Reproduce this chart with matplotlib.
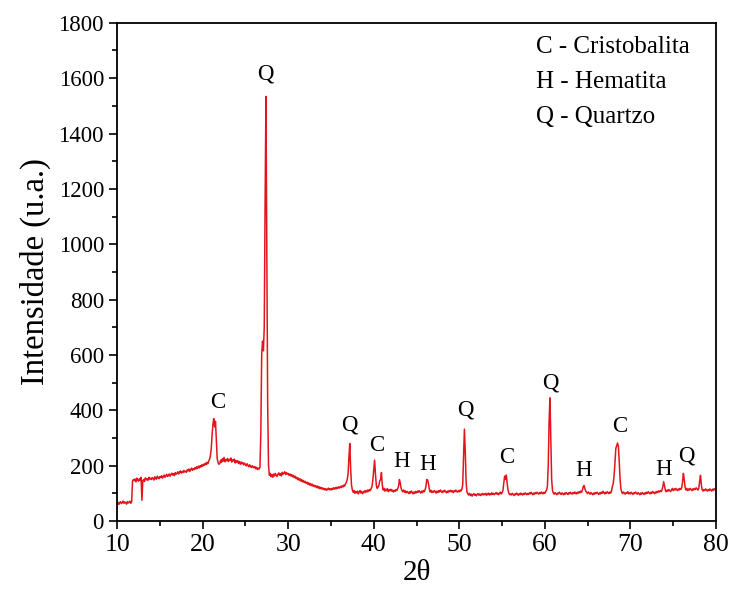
# -*- coding:utf-8 -*-

import numpy as np
import matplotlib
matplotlib.use('Agg')
import matplotlib.pyplot as plt
from matplotlib.ticker import MultipleLocator

# 2theta step scan, 10 -> 80 deg, 0.1 deg step (one row = one degree)
intensity = [
    62, 68, 60, 66, 70, 63, 67, 72, 64, 69,              # 10
    66, 61, 70, 65, 68, 72, 64, 70, 143, 150,            # 11
    146, 152, 141, 155, 148, 144, 153, 147, 158, 75,     # 12
    145, 150, 143, 156, 149, 152, 147, 158, 151, 155,    # 13
    150, 157, 153, 148, 160, 155, 151, 162, 156, 153,    # 14
    161, 157, 164, 155, 160, 166, 158, 163, 169, 161,    # 15
    165, 170, 162, 168, 173, 166, 171, 164, 175, 169,    # 16
    172, 178, 170, 176, 181, 173, 179, 175, 183, 177,    # 17
    180, 176, 185, 181, 188, 179, 186, 191, 183, 189,    # 18
    186, 193, 188, 196, 190, 198, 192, 200, 195, 203,    # 19
    198, 205, 201, 209, 204, 212, 207, 216, 222, 235,    # 20
    260, 310, 350, 370, 340, 360, 290, 225, 212, 205,    # 21
    208, 220, 212, 225, 216, 230, 214, 222, 218, 226,    # 22
    215, 223, 219, 228, 213, 221, 217, 224, 210, 219,    # 23
    212, 218, 208, 215, 205, 213, 207, 211, 203, 209,    # 24
    204, 199, 207, 201, 196, 203, 198, 193, 200, 195,    # 25
    192, 197, 189, 194, 186, 191, 188, 195, 320, 600,    # 26
    650, 615, 700, 1150, 1534, 980, 420, 200, 165, 172,  # 27
    160, 168, 158, 170, 163, 172, 165, 161, 169, 174,    # 28
    166, 171, 163, 176, 169, 173, 178, 168, 175, 170,    # 29
    172, 165, 170, 163, 168, 160, 165, 157, 162, 154,    # 30
    158, 150, 155, 147, 152, 144, 149, 141, 146, 139,    # 31
    143, 136, 140, 133, 138, 130, 135, 128, 133, 126,    # 32
    130, 124, 128, 121, 126, 119, 124, 117, 122, 116,    # 33
    120, 114, 118, 112, 117, 111, 115, 119, 113, 117,    # 34
    112, 118, 114, 120, 115, 121, 116, 122, 118, 124,    # 35
    119, 125, 121, 127, 123, 130, 126, 134, 140, 150,    # 36
    170, 230, 280, 190, 130, 112, 104, 110, 100, 107,    # 37
    102, 108, 98, 105, 110, 101, 107, 99, 104, 109,      # 38
    103, 110, 105, 112, 107, 114, 110, 118, 125, 150,    # 39
    185, 220, 170, 130, 118, 122, 128, 145, 150, 175,    # 40
    130, 112, 118, 108, 115, 110, 117, 106, 113, 109,    # 41
    115, 108, 112, 105, 111, 107, 114, 110, 118, 125,    # 42
    150, 138, 118, 110, 106, 112, 104, 109, 102, 107,    # 43
    104, 99, 106, 101, 108, 103, 98, 105, 100, 107,      # 44
    102, 108, 104, 110, 105, 101, 108, 103, 110, 106,    # 45
    112, 125, 150, 148, 135, 115, 105, 111, 103, 108,    # 46
    104, 110, 106, 101, 108, 103, 110, 105, 112, 107,    # 47
    103, 109, 105, 111, 106, 102, 108, 104, 110, 106,    # 48
    111, 105, 109, 103, 110, 106, 112, 107, 104, 110,    # 49
    106, 112, 108, 115, 130, 230, 332, 250, 140, 105,    # 50
    98, 94, 100, 92, 97, 90, 95, 99, 93, 97,             # 51
    91, 96, 99, 93, 98, 92, 96, 100, 94, 98,             # 52
    95, 100, 93, 97, 101, 94, 99, 95, 102, 96,           # 53
    100, 95, 99, 103, 97, 101, 95, 100, 104, 98,         # 54
    102, 110, 135, 162, 150, 166, 135, 112, 100, 95,     # 55
    98, 94, 100, 96, 92, 98, 95, 101, 97, 93,            # 56
    99, 95, 101, 97, 94, 100, 96, 102, 98, 95,           # 57
    100, 96, 102, 98, 104, 99, 95, 101, 97, 103,         # 58
    99, 104, 100, 97, 103, 99, 105, 101, 98, 104,        # 59
    100, 106, 112, 125, 200, 360, 445, 300, 150, 110,    # 60
    101, 97, 103, 99, 95, 101, 98, 104, 100, 96,         # 61
    102, 98, 95, 101, 97, 103, 99, 96, 102, 98,          # 62
    104, 100, 97, 103, 99, 105, 101, 98, 104, 100,       # 63
    106, 102, 108, 104, 112, 125, 128, 115, 107, 103,    # 64
    99, 105, 101, 97, 103, 99, 95, 101, 97, 103,         # 65
    99, 104, 100, 96, 102, 98, 104, 100, 107, 102,       # 66
    98, 104, 100, 106, 102, 99, 105, 101, 108, 125,      # 67
    135, 165, 210, 262, 272, 282, 270, 215, 150, 115,    # 68
    104, 99, 105, 101, 97, 103, 100, 106, 98, 102,       # 69
    98, 104, 100, 96, 102, 99, 105, 101, 97, 103,        # 70
    99, 95, 101, 97, 103, 99, 96, 102, 98, 104,          # 71
    100, 106, 102, 98, 104, 100, 107, 103, 99, 105,      # 72
    101, 107, 103, 109, 105, 110, 106, 112, 125, 142,    # 73
    125, 110, 106, 112, 108, 114, 110, 106, 112, 118,    # 74
    110, 116, 112, 118, 114, 110, 116, 112, 118, 114,    # 75
    120, 140, 172, 150, 122, 112, 118, 110, 116, 112,    # 76
    118, 114, 110, 116, 112, 118, 114, 120, 116, 112,    # 77
    118, 145, 165, 130, 112, 108, 114, 110, 116, 112,    # 78
    108, 114, 110, 116, 112, 108, 115, 111, 117, 113,    # 79
    110,                                                 # 80
]
two_theta = np.linspace(10, 80, len(intensity))

# phase labels over the peaks
peak_labels = ['C', 'Q', 'Q', 'C', 'H', 'H', 'Q', 'C', 'Q', 'H', 'C', 'H', 'Q']
peak_x = [21.8, 27.3, 37.2, 40.3, 43.3, 46.3, 50.7, 55.6, 60.7, 64.5, 68.8, 73.9, 76.5]
peak_y = [427, 1615, 348, 272, 214, 206, 402, 228, 500, 181, 340, 185, 235]

phase_notes = ['C - Cristobalita', 'H - Hematita', 'Q - Quartzo']


def run_main():

    plt.rc('font', family='Liberation Serif', size=16)

    fig = plt.figure(figsize=(7.32, 5.91), dpi=100)
    ax = fig.add_axes([0.160, 0.1184, 0.818, 0.843])

    ax.plot(two_theta, intensity, color='#e3141c', lw=1.1)

    for lab, x, y in zip(peak_labels, peak_x, peak_y):
        ax.text(x, y, lab, ha='center', va='center', fontsize=16.5)

    for i, note in enumerate(phase_notes):
        ax.text(0.70, 0.952 - i * 0.0705, note, transform=ax.transAxes,
                ha='left', va='center', fontsize=18)

    ax.set_xlim(10, 80)
    ax.set_ylim(0, 1800)
    ax.xaxis.set_major_locator(MultipleLocator(10))
    ax.xaxis.set_minor_locator(MultipleLocator(5))
    ax.yaxis.set_major_locator(MultipleLocator(200))
    ax.yaxis.set_minor_locator(MultipleLocator(100))
    ax.tick_params(which='major', direction='out', length=6, width=1.2)
    ax.tick_params(which='minor', direction='out', length=3.5, width=1.2)
    ax.tick_params(axis='x', labelsize=18.5)
    ax.tick_params(axis='y', labelsize=16.5)
    for s in ax.spines.values():
        s.set_linewidth(1.3)

    ax.set_xlabel('2θ', fontsize=21, labelpad=3)
    ax.set_ylabel('Intensidade (u.a.)', fontsize=23.5, labelpad=5)

    fig.savefig('out.png', dpi=100)


if __name__ == "__main__":
    run_main()
